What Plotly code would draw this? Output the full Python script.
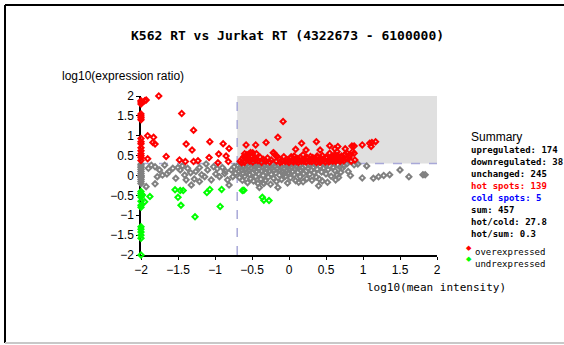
import plotly.graph_objects as go

TITLE = "K562 RT vs Jurkat RT (4322673 - 6100000)"
X_TITLE = "log10(mean intensity)"
Y_TITLE = "log10(expression ratio)"
X_CUT = -0.7
Y_CUT = 0.3
TICKS = [-2, -1.5, -1, -0.5, 0, 0.5, 1, 1.5, 2]

# over-expressed (red)
red_x = [-2, -2, -2, -2, -2, -2, -2, -2, -2, -2, -2, -2, -2, -2, -2, -2,
         -1.95, -1.93, -1.76, -1.91, -1.83, -1.84, -1.81, -1.91, -1.66, -1.45, -1.29, -1.39,
         -1.31, -1.48, -1.40, -1.29, -1.23, -1.07, -1.08, -0.96, -0.95, -0.89, -0.85, -0.81,
         -0.82, -0.58, -0.64, -0.54, -0.51, -0.49, -0.45, -0.56,
         -0.08, -0.15, -0.31, -0.45, 0.17, 0.37, 0.09, 0.23, 0.42, 0.55, 0.66, 0.62, 0.76,
         0.85, 0.88, 0.99, 1.09, 1.12, 1.17, 1.11, 0.78, 0.88, 0.81, 0.89, -0.21,
         -0.66, -0.63, -0.61, -0.6, -0.57, -0.55, -0.54, -0.52, -0.5, -0.49, -0.47, -0.44,
         -0.42, -0.39, -0.37, -0.35, -0.31, -0.29, -0.26, -0.24, -0.21, -0.19, -0.17, -0.14,
         -0.12, -0.1, -0.07, -0.05, -0.03, 0.0, 0.02, 0.04, 0.06, 0.08, 0.11, 0.13, 0.15,
         0.17, 0.19, 0.21, 0.23, 0.25, 0.27, 0.29, 0.31, 0.33, 0.35, 0.37, 0.39, 0.41, 0.43,
         0.45, 0.47, 0.49, 0.51, 0.53, 0.55, 0.57, 0.59, 0.6, 0.62, 0.64, 0.65, 0.67, 0.69,
         0.71, 0.73, 0.74, 0.76, 0.79, 0.82, 0.84, 0.86,
         -0.02, 0.03, 0.1, 0.12, 0.18, 0.24, 0.28, 0.34, 0.38, 0.42, 0.46, 0.5, 0.54, 0.58,
         0.63, 0.66, 0.7, 0.72, -0.6, -0.58, -0.56, -0.53, -0.45, -0.33, -0.16, -0.09, 0.07,
         0.2, 0.32, 0.44, 0.56, 0.61, 0.68]
red_y = [1.85, 1.8, 1.88, 1.55, 1.5, 1.45, 1.4, 0.93, 0.85, 0.8, 0.7, 0.62, 0.55, 0.5, 0.45, 0.38,
         1.88, 1.9, 2.0, 1.0, 0.96, 0.83, 0.79, 0.42, 0.48, 1.56, 1.14, 0.79,
         0.64, 0.39, 0.35, 0.35, 0.37, 0.85, 0.45, 0.32, 0.54, 0.8, 0.49, 0.68,
         0.35, 0.77, 0.32, 0.54, 0.47, 0.57, 0.39, 0.41,
         1.36, 0.96, 0.83, 0.77, 0.81, 0.85, 0.66, 0.64, 0.64, 0.75, 0.73, 0.67, 0.67,
         0.74, 0.74, 0.77, 0.81, 0.83, 0.85, 0.73, 0.57, 0.56, 0.46, 0.39, 0.57,
         0.36, 0.42, 0.47, 0.33, 0.52, 0.45, 0.38, 0.58, 0.49, 0.34, 0.43, 0.55,
         0.37, 0.46, 0.33, 0.41, 0.36, 0.44, 0.34, 0.39, 0.57, 0.52, 0.36, 0.42,
         0.33, 0.38, 0.47, 0.35, 0.4, 0.33, 0.44, 0.37, 0.34, 0.41, 0.38, 0.33, 0.45,
         0.36, 0.52, 0.4, 0.34, 0.43, 0.37, 0.48, 0.35, 0.42, 0.38, 0.33, 0.45, 0.39, 0.36,
         0.5, 0.41, 0.34, 0.44, 0.38, 0.56, 0.47, 0.36, 0.42, 0.52, 0.39, 0.6, 0.45, 0.35,
         0.49, 0.41, 0.37, 0.53, 0.44, 0.5, 0.36, 0.6,
         0.36, 0.47, 0.35, 0.43, 0.39, 0.46, 0.35, 0.4, 0.49, 0.33, 0.38, 0.46, 0.34, 0.43,
         0.35, 0.5, 0.39, 0.46, 0.55, 0.41, 0.5, 0.36, 0.39, 0.38, 0.48, 0.35, 0.49,
         0.36, 0.45, 0.42, 0.39, 0.47, 0.42]

# unchanged (grey)
grey_x = [-2, -2, -2, -2, -2, -2, -2, -2, -2, -2, -2, -2,
          -1.93, -1.81, -1.75, -1.78, -1.71, -1.81, -1.62, -1.57, -1.53, -1.47, -1.41, -1.37,
          -1.32, -1.28, -1.26, -1.21, -1.14, -1.10, -1.05, -1.02, -0.99, -0.94, -0.9, -0.87,
          -0.83, -0.81, -0.78, -0.74, -0.76, -1.68, -1.9, -1.86, -1.5, -1.12, -1.39, -1.21,
          -1.65, -1.44, -1.33, -1.18, -0.97, -0.86, -0.72,
          -0.69, -0.68, -0.67, -0.66, -0.65, -0.64, -0.63, -0.62, -0.61, -0.6, -0.59, -0.58,
          -0.57, -0.56, -0.55, -0.54, -0.53, -0.52, -0.51, -0.5, -0.49, -0.48, -0.47, -0.46,
          -0.45, -0.44, -0.43, -0.42, -0.41, -0.4, -0.39, -0.38, -0.37, -0.36, -0.35, -0.33,
          -0.32, -0.31, -0.3, -0.29, -0.28, -0.27, -0.26, -0.25, -0.24, -0.23, -0.22, -0.21,
          -0.2, -0.19, -0.18, -0.17, -0.16, -0.14, -0.13, -0.12, -0.11, -0.1, -0.09, -0.08,
          -0.07, -0.06, -0.05, -0.04, -0.03, -0.02, -0.01, 0.0, 0.01, 0.02, 0.03, 0.05, 0.06,
          0.07, 0.08, 0.09, 0.1, 0.12, 0.14, 0.15, 0.16, 0.18, 0.19, 0.2, 0.22, 0.23, 0.24,
          0.26, 0.27, 0.28, 0.3, 0.31, 0.33, 0.34, 0.36, 0.37, 0.38, 0.42, 0.44, 0.45, 0.47,
          0.48, 0.5, 0.53, 0.55, 0.57, 0.6, 0.62, 0.66, 0.7, 0.72, 0.74, 0.78,
          0.69, 0.65, 0.67, 0.63, 0.52, 0.40, 0.41, 0.13, -0.15, -0.40, -0.34,
          1.05, 0.93, 0.83, 0.99, 1.14, 1.21, 1.28, 1.36, 1.5, 1.62, 1.81, 1.84, 0.88, 0.8]
grey_y = [0.28, 0.2, 0.15, 0.1, 0.05, 0.0, -0.05, -0.1, -0.15, -0.2, 0.24, -0.02,
          -0.28, 0.22, 0.14, -0.03, 0.01, -0.21, 0.1, 0.18, -0.07, 0.14, 0.01, 0.18,
          -0.24, -0.09, 0.1, 0.2, -0.03, 0.14, -0.11, 0.22, 0.04, -0.03, 0.2, 0.05,
          -0.11, -0.24, 0.14, 0.22, -0.03, 0.26, 0.18, 0.26, 0.2, 0.29, -0.11, -0.15,
          0.04, 0.24, 0.07, 0.02, 0.17, 0.11, 0.06,
          0.25, 0.1, -0.05, 0.2, 0.28, 0.14, -0.12, 0.05, 0.22, -0.02, 0.17, 0.27,
          0.08, -0.18, 0.12, 0.24, 0.02, -0.08, 0.19, 0.29, 0.06, -0.14, 0.15, 0.23,
          -0.03, 0.1, 0.26, -0.2, 0.04, 0.18, 0.28, -0.09, 0.12, 0.21, 0.0, 0.25,
          -0.13, 0.08, 0.16, 0.27, -0.04, 0.11, 0.22, -0.22, 0.03, 0.19, 0.29, -0.07,
          0.13, 0.24, 0.06, -0.15, 0.17, 0.26, 0.01, 0.14, 0.21, -0.1, 0.09, 0.28,
          0.04, 0.18, -0.02, 0.23, 0.12, -0.19, 0.07, 0.25, 0.15, -0.06, 0.2, 0.1, 0.28,
          0.02, 0.17, -0.13, 0.22, 0.08, 0.26, -0.03, 0.13, 0.19, -0.16, 0.05, 0.24, 0.11,
          -0.08, 0.18, 0.27, 0.03, 0.14, -0.12, 0.21, 0.07, 0.26, -0.04, 0.16, 0.23, 0.09,
          -0.14, 0.19, 0.28, 0.04, 0.15, 0.24, -0.02, 0.2, 0.12, 0.27, 0.08, 0.18, 0.25, 0.29,
          0.21, 0.01, -0.05, -0.11, -0.17, -0.26, -0.09, -0.17, -0.30, -0.30, -0.2,
          0.24, 0.29, 0.0, -0.06, -0.07, -0.03, 0.0, 0.02, 0.14, -0.03, 0.02, 0.02, 0.27, 0.1]

# under-expressed (green)
green_x = [-2, -2, -2, -2, -2, -2, -2, -2, -2, -2, -2, -2, -2,
           -1.98, -1.95, -1.88, -1.54, -1.50, -1.47, -1.43, -1.46, -1.27, -1.11, -1.07,
           -0.91, -0.93, -0.63, -0.61, -0.36, -0.34, -0.27]
green_y = [-0.4, -0.45, -0.55, -0.65, -0.75, -0.8, -1.29, -1.35, -1.42, -1.5, -1.58, -2.0, -0.5,
           -0.49, -0.66, -0.53, -0.36, -0.55, -0.38, -0.38, -0.75, -1.04, -0.43, -0.35,
           -0.35, -0.78, -0.38, -0.37, -0.55, -0.62, -0.63]

SUMMARY = [
    ("upregulated: 174", "#000000"),
    ("downregulated: 38", "#000000"),
    ("unchanged: 245", "#000000"),
    ("hot spots: 139", "#ff0000"),
    ("cold spots: 5", "#0000ff"),
    ("sum: 457", "#000000"),
    ("hot/cold: 27.8", "#000000"),
    ("hot/sum: 0.3", "#000000"),
]
LEGEND = [("overexpressed", "#ff0000"), ("undrexpressed", "#00ff00")]

W, H = 564, 345
L, R, T, B = 141, 437, 96, 255


def px(x):
    return (x - L) / (R - L)


def py(y):
    return (B - y) / (B - T)


MONO = "DejaVu Sans Mono"
SANS = "Liberation Sans"

fig = go.Figure()


def add_points(xs, ys, color):
    fig.add_trace(go.Scatter(
        x=xs, y=ys, mode="markers", cliponaxis=False, showlegend=False,
        marker=dict(symbol="diamond-open", size=4, color=color, line=dict(width=2, color=color)),
    ))


add_points(grey_x, grey_y, "#808080")
add_points(red_x, red_y, "#ff0000")
add_points(green_x, green_y, "#00ff00")

shapes = [
    dict(type="rect", xref="x", yref="y", x0=X_CUT, x1=2, y0=Y_CUT, y1=2,
         fillcolor="#e0e0e0", line=dict(width=0), layer="below"),
    dict(type="line", xref="x", yref="y", x0=X_CUT, x1=X_CUT, y0=-2, y1=2,
         line=dict(color="#a8a8d8", width=1.5, dash="dash"), layer="below"),
    dict(type="line", xref="x", yref="y", x0=-2, x1=2, y0=Y_CUT, y1=Y_CUT,
         line=dict(color="#a8a8d8", width=1.5, dash="dash"), layer="below"),
    # page frame
    dict(type="line", xref="paper", yref="paper", x0=px(5), x1=px(W), y0=py(5), y1=py(5),
         line=dict(color="#000000", width=2)),
    dict(type="line", xref="paper", yref="paper", x0=px(5), x1=px(5), y0=py(5), y1=py(343),
         line=dict(color="#000000", width=2)),
    dict(type="line", xref="paper", yref="paper", x0=px(5), x1=px(W), y0=py(343), y1=py(343),
         line=dict(color="#c8c8c8", width=2)),
]

ann = [
    dict(text="<b>" + TITLE + "</b>", x=px(287), y=py(35), font=dict(family=MONO, size=13, color="#000"),
         xanchor="center", yanchor="middle"),
    dict(text=Y_TITLE, x=px(60), y=py(76), font=dict(family=SANS, size=12, color="#000"),
         xanchor="left", yanchor="middle"),
    dict(text=X_TITLE, x=px(365), y=py(287), font=dict(family=MONO, size=11, color="#000"),
         xanchor="left", yanchor="middle"),
    dict(text="Summary", x=px(469), y=py(137), font=dict(family=SANS, size=12, color="#000"),
         xanchor="left", yanchor="middle"),
]
for i, (t, c) in enumerate(SUMMARY):
    ann.append(dict(text="<b>" + t + "</b>", x=px(469), y=py(149.5 + 12.0 * i),
                    font=dict(family=MONO, size=9, color=c), xanchor="left", yanchor="middle"))
for i, (t, c) in enumerate(LEGEND):
    ann.append(dict(text="◆", x=px(469), y=py(247 + 11 * i), font=dict(family=SANS, size=7, color=c),
                    xanchor="center", yanchor="middle"))
    ann.append(dict(text=t, x=px(473), y=py(252 + 12 * i), font=dict(family=MONO, size=9, color="#000"),
                    xanchor="left", yanchor="middle"))
for a in ann:
    a.update(xref="paper", yref="paper", showarrow=False)

axis_common = dict(
    showgrid=False, zeroline=False, showline=True, linecolor="#000", linewidth=1.5,
    ticks="outside", ticklen=3, tickwidth=1, tickcolor="#000",
    tickfont=dict(family=SANS, size=12, color="#000"),
    tickvals=TICKS, ticktext=[("%g" % v).replace("-", "−") for v in TICKS],
    range=[-2, 2], fixedrange=True, layer="below traces",
)
fig.update_layout(
    width=W, height=H, autosize=False,
    margin=dict(l=L, r=W - R, t=T, b=H - B, pad=0),
    paper_bgcolor="#ffffff", plot_bgcolor="#ffffff",
    xaxis=dict(**axis_common),
    yaxis=dict(**axis_common),
    shapes=shapes, annotations=ann,
)
fig.write_html("out.html")
